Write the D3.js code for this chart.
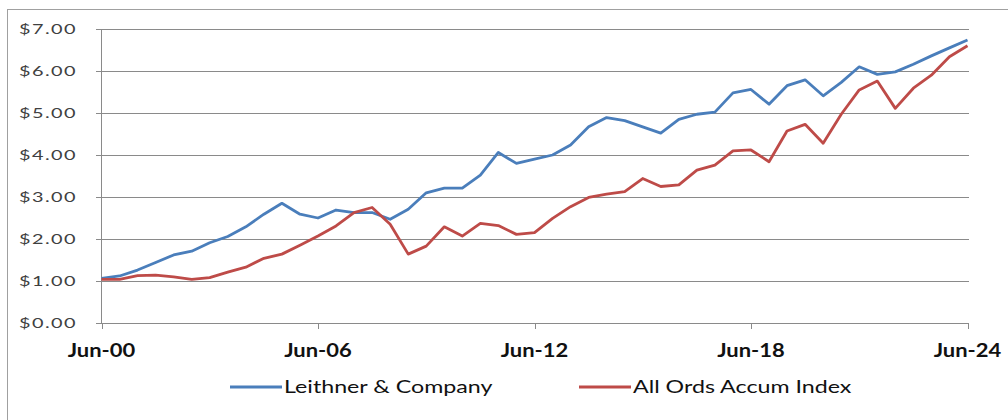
<!DOCTYPE html>
<html>
<head>
<meta charset="utf-8">
<script src="https://cdn.jsdelivr.net/npm/d3@7"></script>
<style>
  html, body { margin: 0; padding: 0; background: #fff; overflow: hidden; }
  svg { display: block; }
</style>
</head>
<body>
<svg id="chart" width="1008" height="420"></svg>
<script>
// half-yearly periods, Jun-00 .. Jun-24
var periods = [
  "Jun-00","Dec-00","Jun-01","Dec-01","Jun-02","Dec-02","Jun-03","Dec-03","Jun-04","Dec-04",
  "Jun-05","Dec-05","Jun-06","Dec-06","Jun-07","Dec-07","Jun-08","Dec-08","Jun-09","Dec-09",
  "Jun-10","Dec-10","Jun-11","Dec-11","Jun-12","Dec-12","Jun-13","Dec-13","Jun-14","Dec-14",
  "Jun-15","Dec-15","Jun-16","Dec-16","Jun-17","Dec-17","Jun-18","Dec-18","Jun-19","Dec-19",
  "Jun-20","Dec-20","Jun-21","Dec-21","Jun-22","Dec-22","Jun-23","Dec-23","Jun-24"
];

var leithner = [
  1.06, 1.12, 1.26, 1.44, 1.62, 1.71, 1.91, 2.06, 2.29, 2.59,
  2.85, 2.59, 2.50, 2.69, 2.63, 2.63, 2.47, 2.71, 3.10, 3.21,
  3.21, 3.52, 4.06, 3.80, 3.90, 4.00, 4.24, 4.67, 4.89, 4.82,
  4.67, 4.52, 4.85, 4.97, 5.02, 5.48, 5.56, 5.21, 5.65, 5.79,
  5.41, 5.73, 6.10, 5.92, 5.98, 6.16, 6.36, 6.55, 6.74
];

var allOrds = [
  1.04, 1.04, 1.13, 1.14, 1.10, 1.04, 1.08, 1.21, 1.33, 1.54,
  1.64, 1.85, 2.07, 2.31, 2.63, 2.75, 2.35, 1.64, 1.83, 2.29,
  2.07, 2.37, 2.32, 2.11, 2.15, 2.49, 2.77, 2.99, 3.07, 3.13,
  3.44, 3.25, 3.29, 3.64, 3.76, 4.10, 4.12, 3.84, 4.57, 4.73,
  4.28, 4.97, 5.55, 5.76, 5.11, 5.59, 5.90, 6.34, 6.60
];

var seriesNames = ["Leithner & Company", "All Ords Accum Index"];
var seriesColors = ["#4a7ebb", "#be4b48"];
var xTickLabels = ["Jun-00", "Jun-06", "Jun-12", "Jun-18", "Jun-24"];
var yTicks = [0, 1, 2, 3, 4, 5, 6, 7];

var svg = d3.select("#chart");
var parse = d3.timeParse("%b-%y");
var dates = periods.map(parse);

var x = d3.scaleTime()
  .domain(d3.extent(dates))
  .range([101.5, 967.5]);
var y = d3.scaleLinear()
  .domain([0, 7])
  .range([323, 29]);

// outer chart border (cut off at right and bottom)
svg.append("rect")
  .attr("x", 7.5).attr("y", 9.5)
  .attr("width", 1020).attr("height", 430)
  .attr("fill", "none")
  .attr("stroke", "#a0a0a0");

// gridlines
svg.append("g")
  .selectAll("line")
  .data(yTicks)
  .enter().append("line")
  .attr("x1", 96).attr("x2", 969)
  .attr("y1", d => Math.round(y(d)) + 0.5)
  .attr("y2", d => Math.round(y(d)) + 0.5)
  .attr("stroke", "#8a8a8a")
  .attr("stroke-width", 1);

// y axis line
svg.append("line")
  .attr("x1", 101.5).attr("x2", 101.5)
  .attr("y1", y(7)).attr("y2", y(0))
  .attr("stroke", "#8a8a8a");

// x ticks
svg.append("g")
  .selectAll("line")
  .data(xTickLabels)
  .enter().append("line")
  .attr("x1", d => Math.round(x(parse(d))) + 0.5)
  .attr("x2", d => Math.round(x(parse(d))) + 0.5)
  .attr("y1", y(0)).attr("y2", y(0) + 6)
  .attr("stroke", "#8a8a8a");

// y labels
svg.append("g")
  .selectAll("text")
  .data(yTicks)
  .enter().append("text")
  .attr("transform", d => `translate(77, ${y(d) + 5}) scale(1.42, 1)`)
  .attr("text-anchor", "end")
  .style("font-family", "Lato, 'DejaVu Sans', sans-serif")
  .style("font-size", "14px")
  .style("letter-spacing", "1px")
  .style("fill", "#404040")
  .text(d => "$" + d.toFixed(2));

// x labels
svg.append("g")
  .selectAll("text")
  .data(xTickLabels)
  .enter().append("text")
  .attr("transform", d => `translate(${x(parse(d))}, 357) scale(1.22, 1)`)
  .attr("text-anchor", "middle")
  .style("font-family", "Lato, sans-serif")
  .style("font-weight", "bold")
  .style("font-size", "18px")
  .style("fill", "#111")
  .text(d => d);

// lines
var line = d3.line()
  .x((d, i) => x(dates[i]))
  .y(d => y(d));

[leithner, allOrds].forEach((vals, k) => {
  svg.append("path")
    .datum(vals)
    .attr("d", line)
    .attr("fill", "none")
    .attr("stroke", seriesColors[k])
    .attr("stroke-width", 2.8)
    .attr("stroke-linejoin", "round");
});

// legend
var legendX = [230, 579];
var legend = svg.append("g");
seriesNames.forEach((name, k) => {
  legend.append("line")
    .attr("x1", legendX[k]).attr("x2", legendX[k] + 52)
    .attr("y1", 387).attr("y2", 387)
    .attr("stroke", seriesColors[k])
    .attr("stroke-width", 2.8);
  legend.append("text")
    .attr("transform", `translate(${legendX[k] + 54}, 393) scale(1.29, 1)`)
    .style("font-family", "Lato, sans-serif")
    .style("font-size", "18px")
    .style("fill", "#111")
    .text(name);
});
</script>
</body>
</html>
